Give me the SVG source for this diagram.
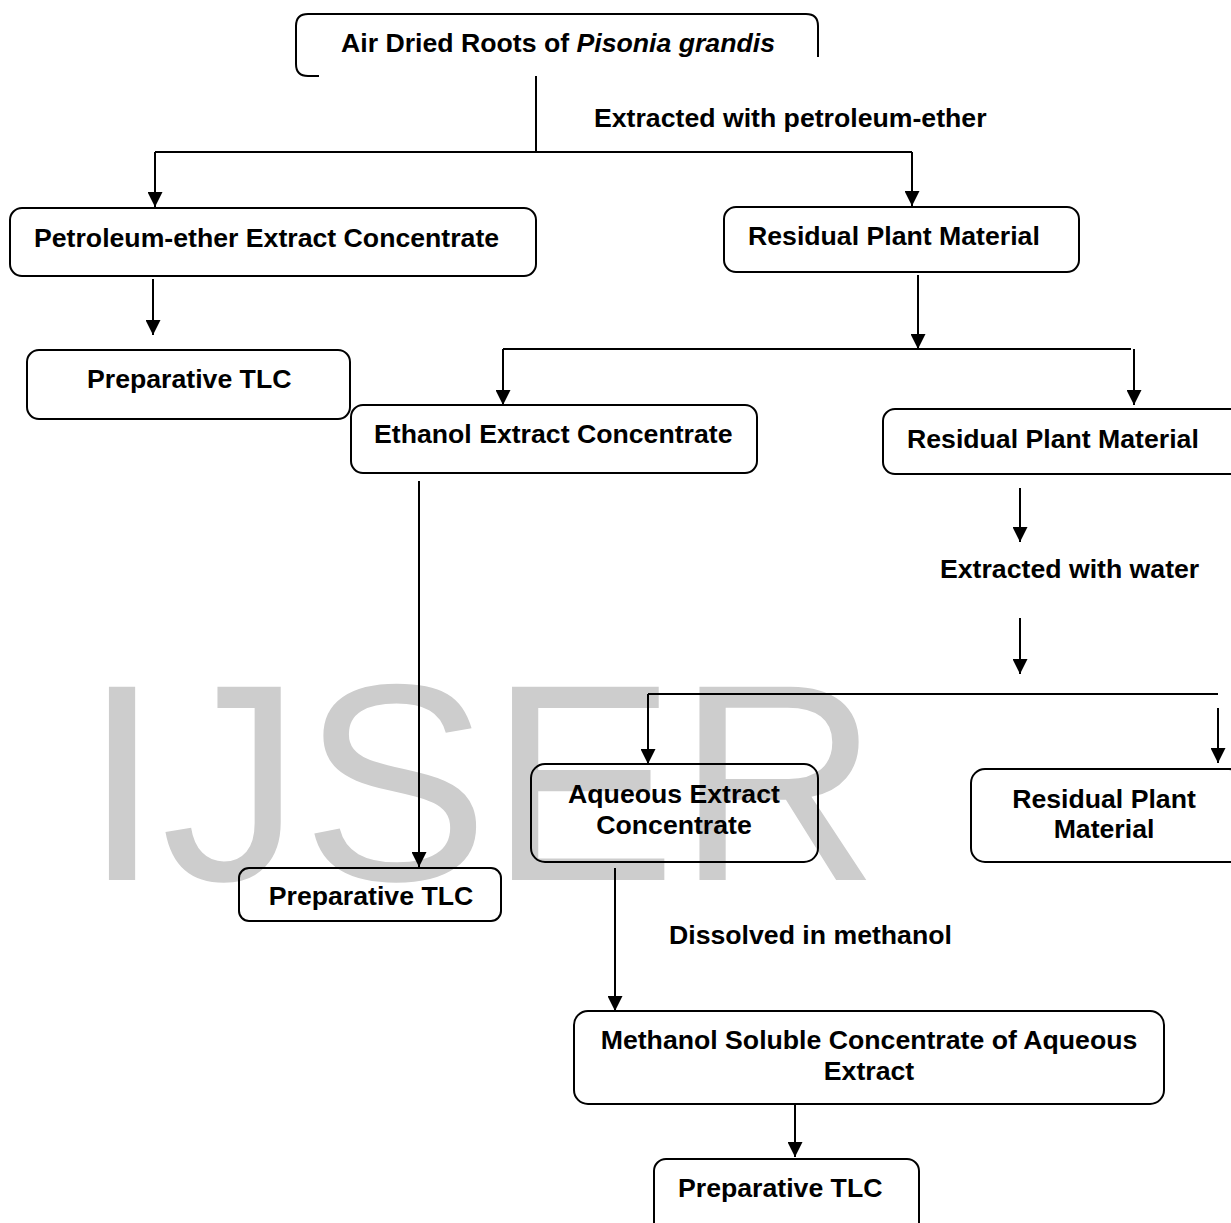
<svg xmlns="http://www.w3.org/2000/svg" width="1231" height="1223" viewBox="0 0 1231 1223">
  <style>
    .box { fill: none; stroke: #000; stroke-width: 2; }
    .wire { fill: none; stroke: #000; stroke-width: 2; }
    .lbl { font-family: "Liberation Sans", Arial, sans-serif; font-weight: bold; font-size: 26.67px; fill: #000; }
    .mid { text-anchor: middle; }
    .mark { font-family: "Liberation Sans", Arial, sans-serif; font-size: 281px; fill: #cdcdcd; }
  </style>
  <defs>
    <marker id="arrow" markerUnits="userSpaceOnUse" markerWidth="15" markerHeight="15" refX="15" refY="7.5" orient="auto">
      <path d="M0,0 L15,7.5 L0,15 z" fill="#000"/>
    </marker>
  </defs>

  <rect width="1231" height="1223" fill="#fff"/>

  <!-- background watermark -->
  <text class="mark" x="83" y="880">IJSER</text>

  <!-- connectors -->
  <g id="connectors">
    <line class="wire" x1="536" y1="76" x2="536" y2="152"/>
    <line class="wire" x1="155" y1="152" x2="912" y2="152"/>
    <line class="wire" x1="155" y1="152" x2="155" y2="207" marker-end="url(#arrow)"/>
    <line class="wire" x1="912" y1="152" x2="912" y2="206" marker-end="url(#arrow)"/>
    <line class="wire" x1="153" y1="279" x2="153" y2="335" marker-end="url(#arrow)"/>
    <line class="wire" x1="918" y1="275" x2="918" y2="349" marker-end="url(#arrow)"/>
    <line class="wire" x1="503" y1="349" x2="1131" y2="349"/>
    <line class="wire" x1="503" y1="349" x2="503" y2="405" marker-end="url(#arrow)"/>
    <line class="wire" x1="1134" y1="349" x2="1134" y2="405" marker-end="url(#arrow)"/>
    <line class="wire" x1="419" y1="481" x2="419" y2="867" marker-end="url(#arrow)"/>
    <line class="wire" x1="1020" y1="488" x2="1020" y2="542" marker-end="url(#arrow)"/>
    <line class="wire" x1="1020" y1="618" x2="1020" y2="674" marker-end="url(#arrow)"/>
    <line class="wire" x1="648" y1="694" x2="1218" y2="694"/>
    <line class="wire" x1="648" y1="694" x2="648" y2="764" marker-end="url(#arrow)"/>
    <line class="wire" x1="1218" y1="708" x2="1218" y2="763" marker-end="url(#arrow)"/>
    <line class="wire" x1="615" y1="868" x2="615" y2="1011" marker-end="url(#arrow)"/>
    <line class="wire" x1="795" y1="1104" x2="795" y2="1157" marker-end="url(#arrow)"/>
    <text class="lbl" x="594" y="127">Extracted with petroleum-ether</text>
    <text class="lbl" x="940" y="578">Extracted with water</text>
    <text class="lbl" x="669" y="944">Dissolved in methanol</text>
  </g>

  <!-- nodes -->
  <g id="roots">
    <path class="box" d="M319,76 H308 Q296,76 296,64 V26 Q296,14 308,14 H806 Q818,14 818,26 V57"/>
    <text class="lbl" x="341" y="52">Air Dried Roots of <tspan font-style="italic">Pisonia grandis</tspan></text>
  </g>
  <g id="petroleum-extract">
    <rect class="box" x="10" y="208" width="526" height="68" rx="12"/>
    <text class="lbl" x="34" y="247">Petroleum-ether Extract Concentrate</text>
  </g>
  <g id="residual-1">
    <rect class="box" x="724" y="207" width="355" height="65" rx="12"/>
    <text class="lbl" x="748" y="245">Residual Plant Material</text>
  </g>
  <g id="tlc-1">
    <rect class="box" x="27" y="350" width="323" height="69" rx="12"/>
    <text class="lbl" x="87" y="388">Preparative TLC</text>
  </g>
  <g id="ethanol-extract">
    <rect class="box" x="351" y="405" width="406" height="68" rx="12"/>
    <text class="lbl" x="374" y="443">Ethanol Extract Concentrate</text>
  </g>
  <g id="residual-2">
    <rect class="box" x="883" y="409" width="360" height="65" rx="12"/>
    <text class="lbl" x="907" y="448">Residual Plant Material</text>
  </g>
  <g id="aqueous-extract">
    <rect class="box" x="531" y="764" width="287" height="98" rx="14"/>
    <text class="lbl mid" x="674" y="803">Aqueous Extract</text>
    <text class="lbl mid" x="674" y="834">Concentrate</text>
  </g>
  <g id="residual-3">
    <rect class="box" x="971" y="769" width="272" height="93" rx="14"/>
    <text class="lbl mid" x="1104" y="808">Residual Plant</text>
    <text class="lbl mid" x="1104" y="838">Material</text>
  </g>
  <g id="tlc-2">
    <rect class="box" x="239" y="868" width="262" height="53" rx="10"/>
    <text class="lbl mid" x="371" y="905">Preparative TLC</text>
  </g>
  <g id="methanol-soluble">
    <rect class="box" x="574" y="1011" width="590" height="93" rx="14"/>
    <text class="lbl mid" x="869" y="1049">Methanol Soluble Concentrate of Aqueous</text>
    <text class="lbl mid" x="869" y="1080">Extract</text>
  </g>
  <g id="tlc-3">
    <rect class="box" x="654" y="1159" width="265" height="80" rx="12"/>
    <text class="lbl" x="678" y="1197">Preparative TLC</text>
  </g>
</svg>
